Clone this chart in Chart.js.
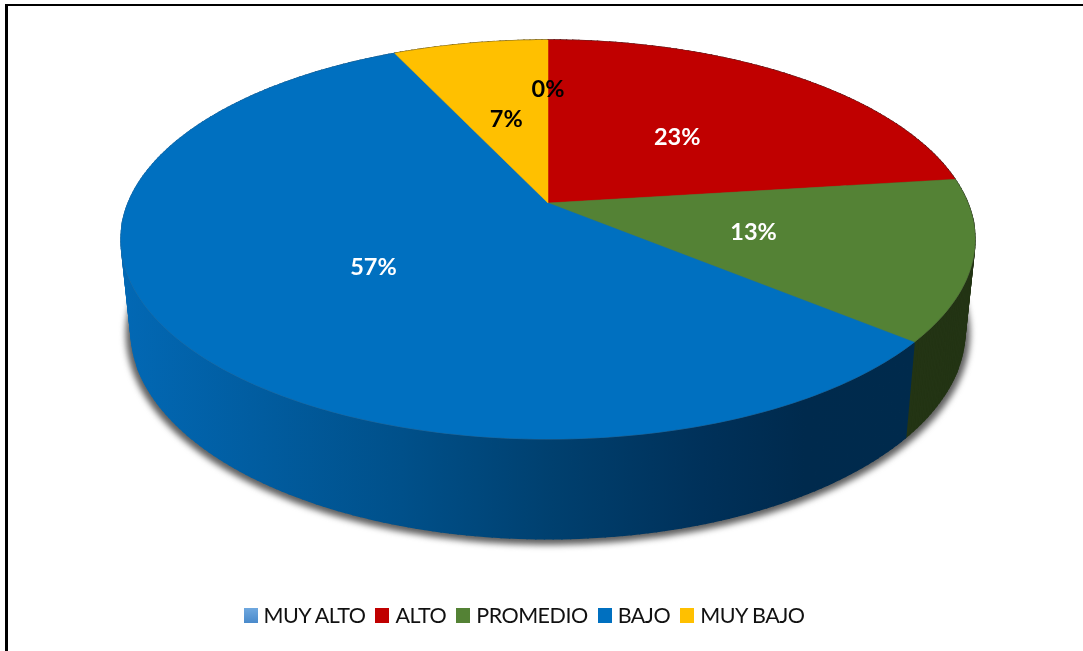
<!DOCTYPE html>
<html>
<head>
<meta charset="utf-8">
<title>Niveles</title>
<script src="https://cdn.jsdelivr.net/npm/chart.js@4"></script>
<style>
  html, body { margin: 0; padding: 0; background: #fff; }
  #wrap { position: relative; width: 1083px; height: 651px; overflow: hidden; }
  #frame { position: absolute; left: 5px; top: 4px; right: 0; bottom: 0; border-left: 3px solid #000; border-top: 2px solid #000; }
  canvas { position: absolute; left: 0; top: 0; }
  #legend { position: absolute; left: 243.5px; top: 601px; display: flex; font: 21.5px Lato, sans-serif; letter-spacing: -0.5px; color: #111; line-height: 28px; white-space: nowrap; }
  #legend div { display: flex; align-items: center; margin-right: 10px; }
  #legend i { display: block; width: 14px; height: 15px; margin-right: 6px; }
</style>
</head>
<body>
<div id="wrap">
  <div id="frame"></div>
  <canvas id="pieChart" width="1083" height="651"></canvas>
  <div id="legend"></div>
</div>
<script>
// data
const categories = ["MUY ALTO", "ALTO", "PROMEDIO", "BAJO", "MUY BAJO"];
const percents = [0, 23, 13, 57, 7];

// colours
const topColors = ["#5B9BD5", "#C00000", "#548235", "#0070C0", "#FFC000"];
const wallColors = ["#24435f", "#4a0000", "#233414", null, "#614a00"];
const labelColors = ["#000", "#fff", "#fff", "#fff", "#000"];

// perspective of the disc: top face, bottom face and shadow of the 3D pie
const centerX = 548;
const tilt = -0.183;
const topFace = { a: 419.8, b: 155.7, c: 203 };
const bottomFace = { a: 410, b: 148, c: 292.2 };
const shadowFace = { a: 415, b: 150, c: 295 };

function project(face, angle, r) {
  const X = r * Math.cos(angle);
  const Y = r * Math.sin(angle);
  const d = 1 + tilt * Y;
  return { x: centerX + face.a * X / d, y: (face.c + face.b * Y) / d };
}

function edgePath(ctx, face, from, to) {
  const steps = Math.max(1, Math.ceil((to - from) / (Math.PI / 180)));
  for (let i = 0; i <= steps; i++) {
    const p = project(face, from + (to - from) * i / steps, 1);
    ctx.lineTo(p.x, p.y);
  }
}

function blueWall(ctx) {
  const g = ctx.createLinearGradient(125, 0, 915, 0);
  g.addColorStop(0, "#0268B4");
  g.addColorStop(0.35, "#00508A");
  g.addColorStop(0.54, "#00406F");
  g.addColorStop(0.73, "#00315A");
  g.addColorStop(0.86, "#002A4D");
  g.addColorStop(1, "#002A4C");
  return g;
}

// the library works out the slice angles, this plugin lays them on the tilted disc
const pie3d = {
  id: "pie3d",
  beforeDatasetsDraw(chart) {
    const ctx = chart.ctx;
    const arcs = chart.getDatasetMeta(0).data;

    // shadow under the disc
    ctx.save();
    ctx.filter = "blur(3px)";
    ctx.fillStyle = "#5f5f5f";
    ctx.beginPath();
    edgePath(ctx, shadowFace, 0, Math.PI * 2);
    ctx.closePath();
    ctx.fill();
    ctx.restore();

    // side wall, one thin strip per degree, back to front
    const strips = [];
    arcs.forEach((arc, i) => {
      const span = arc.endAngle - arc.startAngle;
      const steps = Math.ceil(span / (Math.PI / 180));
      for (let s = 0; s < steps; s++) {
        strips.push({ i, from: arc.startAngle + span * s / steps, to: arc.startAngle + span * (s + 1) / steps });
      }
    });
    strips.sort((p, q) => Math.sin(p.from + (p.to - p.from) / 2) - Math.sin(q.from + (q.to - q.from) / 2));
    const blue = blueWall(ctx);
    strips.forEach(s => {
      const a = project(topFace, s.from, 1);
      const b = project(topFace, s.to, 1);
      const c = project(bottomFace, s.to, 1);
      const d = project(bottomFace, s.from, 1);
      const color = wallColors[s.i] || blue;
      ctx.fillStyle = color;
      ctx.strokeStyle = color;
      ctx.lineWidth = 1.4;
      ctx.beginPath();
      ctx.moveTo(a.x, a.y);
      ctx.lineTo(b.x, b.y);
      ctx.lineTo(c.x, c.y);
      ctx.lineTo(d.x, d.y);
      ctx.closePath();
      ctx.fill();
      ctx.stroke();
    });

    // thin grey rim on the top face
    ctx.strokeStyle = "rgba(110,110,110,0.45)";
    ctx.lineWidth = 1;
    ctx.beginPath();
    edgePath(ctx, topFace, 0, Math.PI * 2);
    ctx.closePath();
    ctx.stroke();

    // top face slices
    arcs.forEach((arc, i) => {
      if (arc.endAngle - arc.startAngle <= 0) return;
      ctx.fillStyle = topColors[i];
      ctx.strokeStyle = topColors[i];
      ctx.lineWidth = 0.5;
      ctx.beginPath();
      ctx.moveTo(centerX, topFace.c);
      edgePath(ctx, topFace, arc.startAngle, arc.endAngle);
      ctx.closePath();
      ctx.fill();
      ctx.stroke();
    });

    // percent labels
    ctx.font = "bold 23.5px Lato, sans-serif";
    ctx.textAlign = "center";
    ctx.textBaseline = "middle";
    arcs.forEach((arc, i) => {
      const mid = (arc.startAngle + arc.endAngle) / 2;
      // an empty slice has its label further out, as in the original
      const p = project(topFace, mid, percents[i] === 0 ? 0.67 : 0.497);
      ctx.fillStyle = labelColors[i];
      ctx.fillText(percents[i] + "%", p.x, p.y + 2);
    });

    return false;
  }
};

new Chart(document.getElementById("pieChart"), {
  type: "pie",
  data: {
    labels: categories,
    datasets: [{ data: percents, backgroundColor: topColors, borderWidth: 0 }]
  },
  options: {
    responsive: false,
    animation: false,
    plugins: {
      legend: { display: false },
      tooltip: { enabled: false }
    }
  },
  plugins: [pie3d]
});

// legend
const legend = document.getElementById("legend");
categories.forEach((name, i) => {
  const item = document.createElement("div");
  const box = document.createElement("i");
  box.style.background = i === 0 ? "linear-gradient(#6FA8DF, #4A8ACB)" : topColors[i];
  item.appendChild(box);
  item.appendChild(document.createTextNode(name));
  legend.appendChild(item);
});
</script>
</body>
</html>
